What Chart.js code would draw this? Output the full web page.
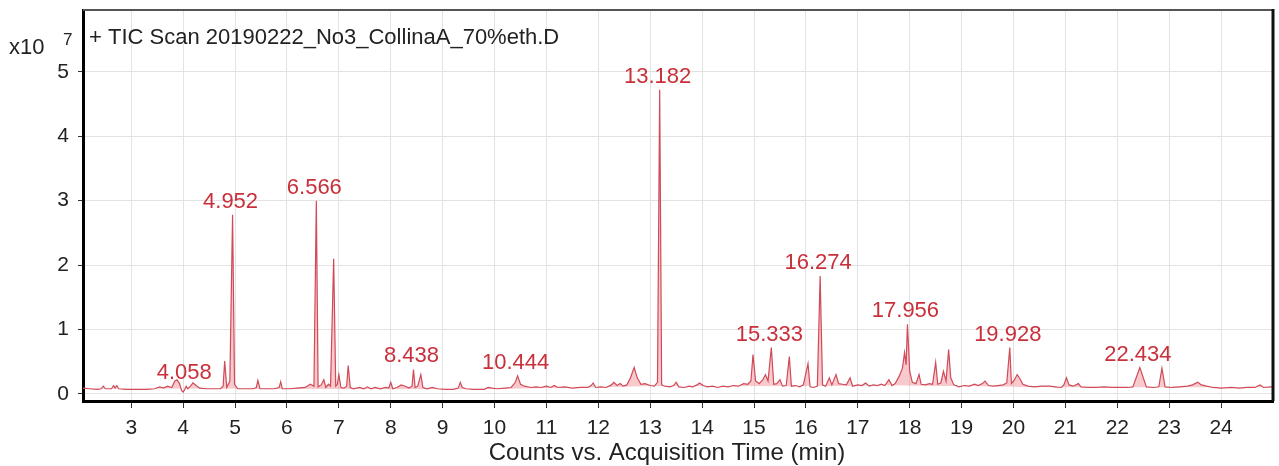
<!DOCTYPE html>
<html>
<head>
<meta charset="utf-8">
<script src="https://cdn.jsdelivr.net/npm/chart.js@4/dist/chart.umd.min.js"></script>
<style>
  html, body { margin: 0; padding: 0; background: #fff; }
  #wrap { width: 1279px; height: 466px; position: relative; }
</style>
</head>
<body>
<div id="wrap"><canvas id="tic" width="1279" height="466"></canvas></div>
<script>
// Acquisition time (min) and total ion current (counts, x10^7)
const retentionTimes = [
  2.07, 2.2, 2.35, 2.42, 2.46, 2.5, 2.62, 2.66, 2.69, 2.72, 2.76, 2.9, 3.1, 3.3, 3.45, 3.55, 3.62, 3.7, 3.78, 3.84,
  3.88, 3.93, 3.97, 4.0, 4.03, 4.058, 4.09, 4.14, 4.19, 4.25, 4.32, 4.45, 4.6, 4.72, 4.77, 4.8, 4.84, 4.9, 4.952, 4.99,
  5.05, 5.2, 5.35, 5.41, 5.44, 5.48, 5.6, 5.75, 5.85, 5.88, 5.91, 6.05, 6.2, 6.35, 6.45, 6.52, 6.566, 6.6, 6.66, 6.71,
  6.75, 6.8, 6.84, 6.9, 6.94, 6.97, 7.0, 7.04, 7.1, 7.15, 7.18, 7.22, 7.28, 7.4, 7.48, 7.55, 7.62, 7.7, 7.8, 7.9,
  7.96, 8.0, 8.04, 8.12, 8.2, 8.28, 8.35, 8.41, 8.438, 8.47, 8.52, 8.58, 8.62, 8.7, 8.8, 8.9, 9.05, 9.2, 9.3, 9.34,
  9.38, 9.45, 9.6, 9.8, 9.88, 9.95, 10.05, 10.2, 10.32, 10.4, 10.444, 10.5, 10.58, 10.7, 10.8, 10.9, 11.0, 11.08, 11.15, 11.22,
  11.35, 11.5, 11.65, 11.8, 11.86, 11.9, 11.95, 12.05, 12.15, 12.25, 12.3, 12.36, 12.42, 12.48, 12.55, 12.62, 12.69, 12.75, 12.82, 12.9,
  13.0, 13.08, 13.14, 13.182, 13.22, 13.28, 13.38, 13.45, 13.5, 13.55, 13.65, 13.75, 13.82, 13.9, 13.95, 14.02, 14.1, 14.2, 14.3, 14.4,
  14.5, 14.6, 14.7, 14.8, 14.88, 14.94, 14.98, 15.03, 15.1, 15.17, 15.22, 15.27, 15.333, 15.38, 15.44, 15.5, 15.55, 15.62, 15.68, 15.72,
  15.8, 15.88, 15.95, 16.04, 16.08, 16.15, 16.22, 16.274, 16.32, 16.38, 16.45, 16.5, 16.58, 16.63, 16.7, 16.78, 16.85, 16.9, 17.0, 17.08,
  17.15, 17.22, 17.3, 17.38, 17.45, 17.52, 17.6, 17.66, 17.72, 17.8, 17.86, 17.9, 17.93, 17.956, 18.0, 18.05, 18.12, 18.18, 18.22, 18.3,
  18.38, 18.44, 18.5, 18.54, 18.6, 18.65, 18.7, 18.75, 18.79, 18.85, 18.95, 19.05, 19.15, 19.25, 19.32, 19.4, 19.45, 19.52, 19.6, 19.7,
  19.8, 19.87, 19.928, 19.96, 20.02, 20.07, 20.12, 20.18, 20.28, 20.4, 20.55, 20.7, 20.8, 20.92, 20.97, 21.02, 21.07, 21.15, 21.25, 21.3,
  21.45, 21.6, 21.75, 21.9, 22.05, 22.2, 22.3, 22.434, 22.56, 22.7, 22.8, 22.86, 22.92, 23.05, 23.2, 23.35, 23.45, 23.55, 23.62, 23.72,
  23.85, 24.0, 24.2, 24.35, 24.5, 24.65, 24.75, 24.82, 24.95, 25.0
];
const ticCounts = [
  0.09, 0.08, 0.07, 0.08, 0.12, 0.08, 0.08, 0.13, 0.09, 0.13, 0.08, 0.07, 0.07, 0.07, 0.08, 0.11, 0.09, 0.12, 0.10, 0.20,
  0.22, 0.16, 0.05, 0.03, 0.07, 0.12, 0.08, 0.12, 0.17, 0.13, 0.09, 0.08, 0.08, 0.08, 0.12, 0.51, 0.10, 0.20, 2.78, 0.15,
  0.08, 0.08, 0.08, 0.10, 0.21, 0.08, 0.08, 0.08, 0.10, 0.19, 0.08, 0.08, 0.09, 0.10, 0.15, 0.12, 3.00, 0.11, 0.14, 0.22,
  0.10, 0.15, 0.12, 2.10, 0.12, 0.15, 0.30, 0.10, 0.09, 0.12, 0.44, 0.10, 0.08, 0.10, 0.08, 0.11, 0.08, 0.10, 0.08, 0.10,
  0.09, 0.18, 0.08, 0.10, 0.14, 0.12, 0.09, 0.12, 0.38, 0.10, 0.12, 0.30, 0.10, 0.08, 0.10, 0.08, 0.07, 0.07, 0.09, 0.18,
  0.10, 0.08, 0.07, 0.07, 0.10, 0.09, 0.08, 0.09, 0.10, 0.18, 0.28, 0.15, 0.12, 0.10, 0.11, 0.10, 0.12, 0.10, 0.13, 0.10,
  0.11, 0.09, 0.10, 0.10, 0.13, 0.17, 0.10, 0.11, 0.10, 0.14, 0.18, 0.13, 0.16, 0.12, 0.14, 0.25, 0.41, 0.25, 0.15, 0.16,
  0.13, 0.12, 0.18, 4.72, 0.14, 0.12, 0.11, 0.13, 0.18, 0.11, 0.10, 0.12, 0.11, 0.14, 0.17, 0.13, 0.11, 0.12, 0.10, 0.12,
  0.11, 0.13, 0.12, 0.16, 0.15, 0.20, 0.61, 0.20, 0.16, 0.22, 0.30, 0.20, 0.72, 0.15, 0.16, 0.22, 0.12, 0.13, 0.58, 0.12,
  0.13, 0.11, 0.14, 0.47, 0.11, 0.10, 0.12, 1.83, 0.14, 0.12, 0.25, 0.14, 0.30, 0.16, 0.15, 0.14, 0.25, 0.12, 0.14, 0.13,
  0.17, 0.12, 0.14, 0.13, 0.15, 0.13, 0.22, 0.13, 0.16, 0.28, 0.40, 0.64, 0.45, 1.08, 0.35, 0.18, 0.16, 0.30, 0.15, 0.14,
  0.16, 0.15, 0.49, 0.15, 0.17, 0.35, 0.20, 0.69, 0.25, 0.14, 0.11, 0.13, 0.12, 0.15, 0.13, 0.16, 0.20, 0.13, 0.12, 0.13,
  0.14, 0.17, 0.72, 0.16, 0.22, 0.30, 0.24, 0.15, 0.12, 0.11, 0.12, 0.12, 0.11, 0.10, 0.14, 0.25, 0.14, 0.12, 0.16, 0.11,
  0.10, 0.10, 0.11, 0.10, 0.10, 0.10, 0.11, 0.41, 0.11, 0.10, 0.11, 0.40, 0.11, 0.10, 0.11, 0.12, 0.14, 0.18, 0.14, 0.12,
  0.10, 0.09, 0.10, 0.09, 0.10, 0.10, 0.14, 0.10, 0.11, 0.11
];
// Integration baseline (time, counts x10^7)
const baselineTimes  = [2.07, 4.7, 9.5, 12.0, 13.0, 14.5, 16.0, 17.5, 19.0, 21.0, 23.0, 25.0];
const baselineCounts = [0.08, 0.08, 0.07, 0.10, 0.12, 0.12, 0.12, 0.13, 0.12, 0.10, 0.10, 0.10];
// Annotated peak retention times
const peakTimes = [4.058, 4.952, 6.566, 8.438, 10.444, 13.182, 15.333, 16.274, 17.956, 19.928, 22.434];
// Axis ticks
const xTickValues = [3, 4, 5, 6, 7, 8, 9, 10, 11, 12, 13, 14, 15, 16, 17, 18, 19, 20, 21, 22, 23, 24];
const yTickValues = [0, 1, 2, 3, 4, 5];

const sampleName = '+ TIC Scan 20190222_No3_CollinaA_70%eth.D';
const xAxisTitle = 'Counts vs. Acquisition Time (min)';

const FONT = '"Liberation Sans", Arial, sans-serif';
const LABEL_RED = '#c9303b';

const trace = retentionTimes.map((t, i) => ({ x: t, y: ticCounts[i] }));
const baseline = baselineTimes.map((t, i) => ({ x: t, y: baselineCounts[i] }));

const decorations = {
  id: 'decorations',
  afterDatasetsDraw(chart) {
    const { ctx, chartArea: a, scales: { x, y } } = chart;
    ctx.save();
    // top and right frame
    ctx.strokeStyle = '#555';
    ctx.lineWidth = 2;
    ctx.beginPath();
    ctx.moveTo(a.left, a.top);
    ctx.lineTo(a.right, a.top);
    ctx.stroke();
    ctx.strokeStyle = '#111';
    ctx.lineWidth = 3;
    ctx.beginPath();
    ctx.moveTo(a.right, a.top - 1);
    ctx.lineTo(a.right, a.bottom);
    ctx.stroke();

    // peak retention-time labels
    ctx.fillStyle = LABEL_RED;
    ctx.font = '22px ' + FONT;
    ctx.textAlign = 'center';
    ctx.textBaseline = 'bottom';
    peakTimes.forEach(t => {
      const i = retentionTimes.indexOf(t);
      const px = x.getPixelForValue(t);
      const py = y.getPixelForValue(ticCounts[i]);
      ctx.fillText(t.toFixed(3), px - 2, py - 2);
    });

    // sample name
    ctx.fillStyle = '#222';
    ctx.font = '22px ' + FONT;
    ctx.textAlign = 'left';
    ctx.textBaseline = 'middle';
    ctx.fillText(sampleName, 89, 38);

    // exponent of the count axis
    ctx.font = '22px ' + FONT;
    ctx.fillText('x10', 9, 48);
    ctx.font = '17px ' + FONT;
    ctx.fillText('7', 63, 40);

    // time axis title
    ctx.font = '24px ' + FONT;
    ctx.textAlign = 'center';
    ctx.fillText(xAxisTitle, 667, 453);
    ctx.restore();
  }
};

new Chart(document.getElementById('tic'), {
  type: 'line',
  data: {
    datasets: [
      {
        data: trace,
        borderColor: '#d04a57',
        borderWidth: 1.2,
        pointRadius: 0,
        tension: 0,
        fill: { target: 1, above: 'rgba(238,128,138,0.42)', below: 'rgba(0,0,0,0)' }
      },
      {
        data: baseline,
        borderWidth: 0,
        borderColor: 'rgba(0,0,0,0)',
        pointRadius: 0,
        fill: false
      }
    ]
  },
  options: {
    responsive: false,
    animation: false,
    events: [],
    layout: { padding: { top: 10, right: 6, left: 0, bottom: 0 } },
    plugins: { legend: { display: false }, tooltip: { enabled: false } },
    scales: {
      x: {
        type: 'linear',
        min: 2.07,
        max: 25,
        afterBuildTicks: s => { s.ticks = xTickValues.map(v => ({ value: v })); },
        afterFit: s => { s.height = 65; s.paddingLeft = 0; s.paddingRight = 0; },
        grid: { color: '#e3e3e3', lineWidth: 1, tickColor: '#333', tickLength: 7, drawTicks: true },
        border: { display: true, color: '#000', width: 3 },
        ticks: { color: '#222', font: { family: FONT, size: 21 }, padding: 8, maxRotation: 0, autoSkip: false }
      },
      y: {
        type: 'linear',
        min: -0.11,
        max: 5.96,
        afterBuildTicks: s => { s.ticks = yTickValues.map(v => ({ value: v })); },
        afterFit: s => { s.width = 83; s.paddingTop = 0; s.paddingBottom = 0; },
        grid: { color: '#e3e3e3', lineWidth: 1, tickColor: '#333', tickLength: 5, drawTicks: true },
        border: { display: true, color: '#000', width: 3 },
        ticks: { color: '#222', font: { family: FONT, size: 21 }, padding: 9, autoSkip: false }
      }
    }
  },
  plugins: [decorations]
});
</script>
</body>
</html>
